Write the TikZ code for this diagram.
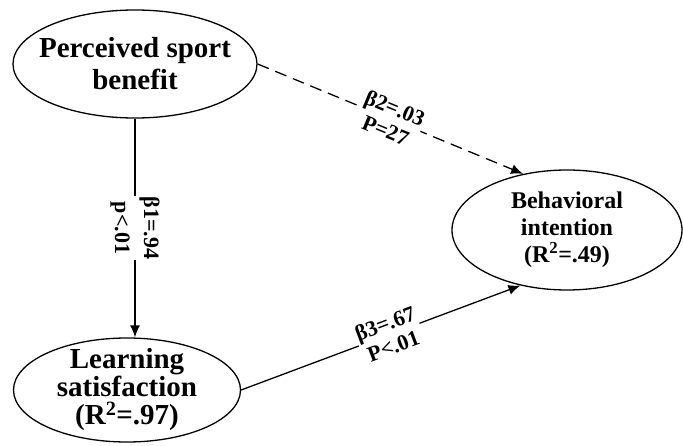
\documentclass[tikz,border=0pt]{standalone}
\usepackage{fontspec}
\setmainfont{Liberation Serif}
\usetikzlibrary{arrows.meta,shapes.geometric}

\begin{document}
\begin{tikzpicture}[
  x=1pt, y=1pt,
  font=\bfseries,
  var/.style ={draw, ellipse, line width=1.3pt, align=center,
               inner xsep=-10pt, inner ysep=-8pt},
  big/.style ={font=\bfseries\fontsize{29}{32}\selectfont},
  mid/.style ={font=\bfseries\fontsize{24}{27}\selectfont},
  ar/.style  ={-{Latex[length=12pt,width=10pt]}, line width=1.3pt},
  dar/.style ={ar, dash pattern=on 12pt off 7pt},
  coef/.style={fill=white, inner sep=1pt, align=center,
               font=\bfseries\fontsize{22}{24}\selectfont}
]
\useasboundingbox (0,0) rectangle (683,445);

\node[var, big, minimum width=244, minimum height=108] (psb) at (135,381)
  {Perceived sport\\benefit};
\node[var, big, minimum width=227, minimum height=104,
      font=\bfseries\fontsize{29}{28}\selectfont] (ls) at (127,55)
  {Learning\\satisfaction\\(R\textsuperscript{2}=.97)};
\node[var, mid, minimum width=230, minimum height=120] (bi) at (567,215)
  {Behavioral\\intention\\(R\textsuperscript{2}=.49)};

\draw[ar] (psb.south) -- node[coef, rotate=-90,
    font=\bfseries\fontsize{22}{29}\selectfont] {β1=.94\\p<.01}
  (psb.south |- ls.north);
\draw[dar] (psb.east) -- node[coef, sloped] {β2=.03\\P=27} (bi.128);
\draw[ar] (ls.east) -- node[coef, sloped, pos=0.53] {β3=.67\\P<.01} (bi.230);

\end{tikzpicture}
\end{document}
